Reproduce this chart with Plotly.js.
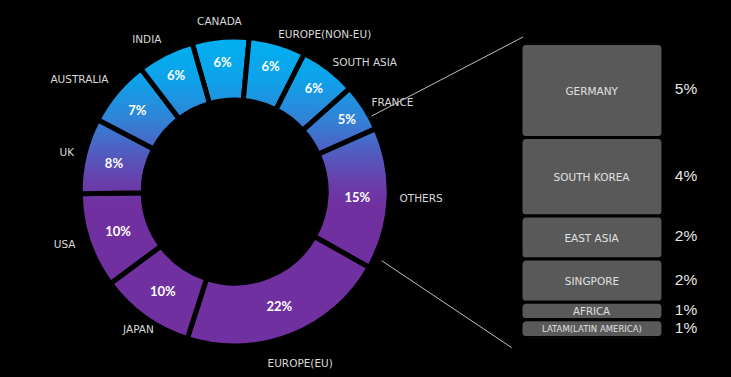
<!DOCTYPE html>
<html>
<head>
<meta charset="utf-8">
<script src="https://cdn.plot.ly/plotly-3.0.1.min.js"></script>
<style>
html,body{margin:0;padding:0;background:#000;}
#chart{width:731px;height:377px;}
</style>
</head>
<body>
<div id="chart"></div>
<script>
// ---- data ----
const regions = ['CANADA','EUROPE(NON-EU)','SOUTH ASIA','FRANCE','OTHERS','EUROPE(EU)','JAPAN','USA','UK','AUSTRALIA','INDIA'];
const shares = [6,6,6,5,15,22,10,10,8,7,6];
const otherRegions = ['GERMANY','SOUTH KOREA','EAST ASIA','SINGPORE','AFRICA','LATAM(LATIN AMERICA)'];
const otherShares = [4.8,4.0,2.2,2.2,0.9,0.9];

// ---- styles ----
const W = 731, H = 377;
const cxPx = 234.7, cyPx = 191.5;     // ring centre (px from top-left)
const ringR = 154.5, holeFrac = 0.592;
const startAngle = -16;                // degrees, clockwise from 12 o'clock
const polarR = 185;
const labelRadii = [165,157,161,163,165,180,165,168,165,165,163];
const labelPositions = ['top center','top right','middle right','middle right','middle right','bottom center','bottom center','middle left','middle left','top left','top left'];
const fallbackColors = ['#05ACEE','#0AA6EC','#1698E4','#2A88DA','#5C48B6','#7030A0','#7030A0','#7030A0','#5A4CBC','#2A86DA','#109CE8'];
const txtGray = '#D9D9D9';

function domX(r){ return [(cxPx - r)/W, (cxPx + r)/W]; }
function domY(r){ const cyB = H - cyPx; return [(cyB - r)/H, (cyB + r)/H]; }

// mid angles of the slices (from the data)
const total = shares.reduce((a,b)=>a+b,0);
let acc = 0;
const midAngles = shares.map(v => { const m = startAngle + (acc + v/2)/total*360; acc += v; return m; });

// stacked positions of the "others" boxes (top-down order)
const bases = otherShares.map((v,i)=>otherShares.slice(i+1).reduce((a,b)=>a+b,0));

const traces = [
  {
    type:'pie', values:shares, labels:regions, sort:false, direction:'clockwise', rotation:startAngle,
    hole:holeFrac, domain:{x:domX(ringR), y:domY(ringR)},
    marker:{colors:fallbackColors, line:{color:'#000', width:5}},
    text:shares.map(v=>v+'%'), textinfo:'text', textposition:'inside', insidetextorientation:'horizontal',
    textfont:{family:'Lato, "Open Sans", sans-serif', size:13, color:'#FFFFFF', weight:'bold'},
    hoverinfo:'skip', showlegend:false
  },
  {
    type:'scatterpolar', mode:'text', r:labelRadii, theta:midAngles, text:regions,
    textposition:labelPositions, cliponaxis:false,
    textfont:{family:'"DejaVu Sans", sans-serif', size:10.5, color:txtGray},
    hoverinfo:'skip', showlegend:false, subplot:'polar'
  },
  {
    type:'bar', x:otherRegions.map(()=>'box'), y:otherShares, base:bases, width:1.51,
    marker:{color:'#595959', line:{color:'#000', width:3}},
    text:otherRegions, textposition:'inside', insidetextanchor:'middle', constraintext:'none', textangle:0,
    textfont:{family:'"DejaVu Sans", sans-serif', size:otherRegions.map((s,i)=>i===otherRegions.length-1?8.5:10.5), color:'#E0E0E0'},
    hoverinfo:'skip', showlegend:false
  },
  {
    type:'scatter', mode:'text', x:otherRegions.map(()=>'pct'), y:otherShares.map((v,i)=>bases[i]+v/2),
    text:otherShares.map(v=>Math.round(v)+'%'), textposition:'middle center', cliponaxis:false,
    textfont:{family:'"Liberation Sans", sans-serif', size:15.5, color:'#E6E6E6'},
    hoverinfo:'skip', showlegend:false
  }
];

const layout = {
  width:W, height:H, margin:{l:0,r:0,t:0,b:0},
  paper_bgcolor:'#000', plot_bgcolor:'rgba(0,0,0,0)',
  showlegend:false, barmode:'overlay', barcornerradius:5,
  polar:{domain:{x:domX(polarR), y:domY(polarR)}, bgcolor:'rgba(0,0,0,0)',
    radialaxis:{visible:false, range:[0,polarR]},
    angularaxis:{visible:false, rotation:90, direction:'clockwise'}},
  xaxis:{domain:[521/W, 1], type:'category', categoryarray:['box','pct'], range:[-0.755, 1.479], visible:false, fixedrange:true},
  yaxis:{domain:[39.5/H, 333.5/H], range:[0,15], visible:false, fixedrange:true},
  shapes:[
    {type:'line', xref:'paper', yref:'paper', x0:371.7/W, y0:(H-116)/H, x1:523/W, y1:(H-37)/H, line:{color:'#BFBFBF', width:1}},
    {type:'line', xref:'paper', yref:'paper', x0:381.7/W, y0:(H-260.7)/H, x1:511.7/W, y1:(H-347.7)/H, line:{color:'#BFBFBF', width:1}}
  ]
};

function applyGradient(gd){
  try{
    const svg = gd.querySelector('svg.main-svg');
    let defs = svg.querySelector('defs');
    const pieTraces = gd.querySelectorAll('.pielayer .trace');
    if(!pieTraces.length) return;
    const paths = pieTraces[0].querySelectorAll('path.surface');
    if(!paths.length) return;
    const ctm = paths[0].getCTM();
    const toLocal = Y => (Y - ctm.f) / ctm.d;
    const NS = 'http://www.w3.org/2000/svg';
    let g = svg.querySelector('#ringGrad');
    if(g) g.remove();
    g = document.createElementNS(NS,'linearGradient');
    g.setAttribute('id','ringGrad');
    g.setAttribute('gradientUnits','userSpaceOnUse');
    g.setAttribute('x1','0'); g.setAttribute('x2','0');
    const y1 = 38, y2 = 345;
    g.setAttribute('y1', toLocal(y1)); g.setAttribute('y2', toLocal(y2));
    const stops = [[38,'#00B0F0'],[80,'#0EA2EA'],[120,'#3282D6'],[150,'#4F5FC2'],[180,'#6840AC'],[205,'#7030A0'],[345,'#7030A0']];
    stops.forEach(([y,c])=>{
      const s = document.createElementNS(NS,'stop');
      s.setAttribute('offset', ((y-y1)/(y2-y1)).toFixed(4));
      s.setAttribute('stop-color', c);
      g.appendChild(s);
    });
    defs.appendChild(g);
    paths.forEach(p=>{ p.style.fill = 'url(#ringGrad)'; });
  }catch(e){ console.log(e); }
}

const gd = document.getElementById('chart');
Plotly.newPlot(gd, traces, layout, {staticPlot:true, displayModeBar:false}).then(()=>{
  applyGradient(gd);
  gd.on && gd.on('plotly_afterplot', ()=>applyGradient(gd));
});
</script>
</body>
</html>
